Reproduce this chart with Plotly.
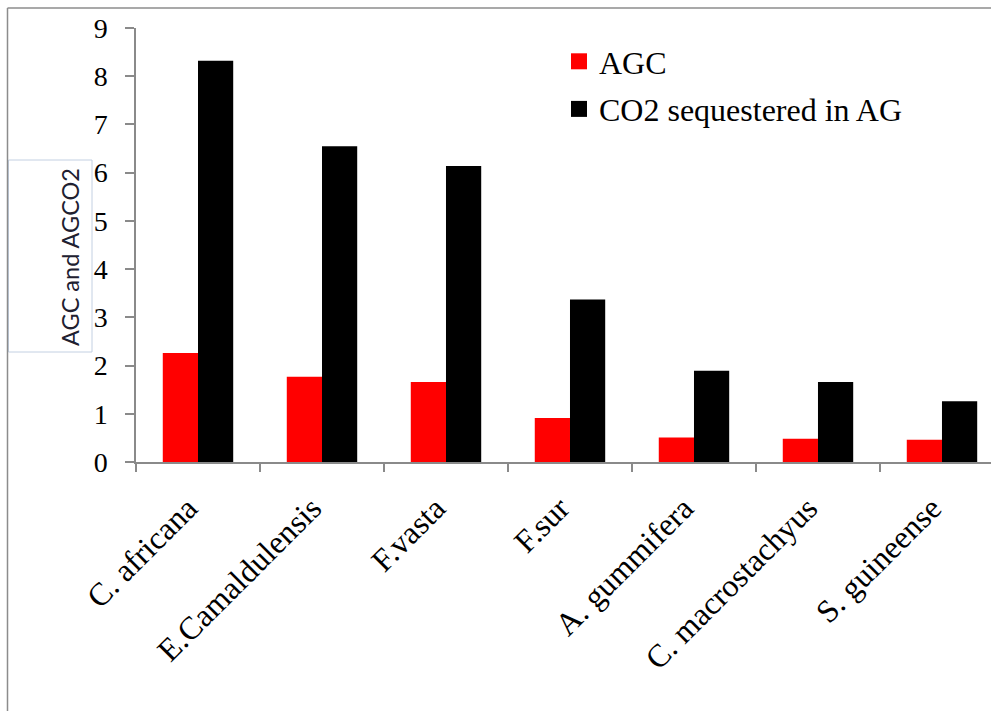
import plotly.graph_objects as go

# Above-ground carbon (AGC) and CO2 sequestered above ground, by species
species = ["C. africana", "E.Camaldulensis", "F.vasta", "F.sur",
           "A. gummifera", "C. macrostachyus", "S. guineense"]
agc = [2.26, 1.77, 1.66, 0.91, 0.51, 0.48, 0.46]
co2_ag = [8.32, 6.55, 6.14, 3.37, 1.89, 1.66, 1.26]
y_ticks = [0, 1, 2, 3, 4, 5, 6, 7, 8, 9]

W, H = 991, 711
L, R, T, B = 136, 0, 28, 249
PW, PH = W - L - R, H - T - B


def px(x):
    return (x - L) / PW


def py(y):
    return (H - B - y) / PH


SERIF = "Liberation Serif, Times New Roman, serif"
AXIS = "#8a8a8a"

fig = go.Figure()
fig.add_trace(go.Bar(x=species, y=agc, name="AGC", marker_color="#ff0000",
                     marker_line_width=0, showlegend=False))
fig.add_trace(go.Bar(x=species, y=co2_ag, name="CO2 sequestered in AG",
                     marker_color="#000000", marker_line_width=0, showlegend=False))

# legend entries with larger square swatches
fig.add_trace(go.Scatter(x=[None], y=[None], mode="markers", name="AGC",
                         legendgroup="a",
                         marker=dict(symbol="square", size=16, color="#ff0000")))
fig.add_trace(go.Scatter(x=[None], y=[None], mode="markers",
                         name="CO2 sequestered in AG", legendgroup="b",
                         marker=dict(symbol="square", size=16, color="#000000")))

shapes = [
    # outer chart frame
    dict(type="line", xref="paper", yref="paper", x0=px(7.5), x1=px(1000),
         y0=py(8), y1=py(8), line=dict(color="#8c8c8c", width=1.5)),
    dict(type="line", xref="paper", yref="paper", x0=px(7.5), x1=px(7.5),
         y0=py(8), y1=py(720), line=dict(color="#8c8c8c", width=1.5)),
    # box around the y-axis title
    dict(type="rect", xref="paper", yref="paper", x0=px(8.5), x1=px(92),
         y0=py(160), y1=py(352), line=dict(color="#c3d0e2", width=1),
         fillcolor="white", layer="below"),
]

fig.update_layout(
    width=W, height=H,
    margin=dict(l=L, r=R, t=T, b=B, pad=0),
    paper_bgcolor="white", plot_bgcolor="white",
    barmode="group", bargap=0.432, bargroupgap=0,
    shapes=shapes,
    legend=dict(x=px(559), y=py(34), xanchor="left", yanchor="top",
                font=dict(family=SERIF, size=32, color="black"),
                bgcolor="rgba(0,0,0,0)", tracegroupgap=3,
                traceorder="grouped", itemwidth=30),
    annotations=[dict(text="AGC and AGCO2", xref="paper", yref="paper",
                      x=px(69.5), y=py(257.5), xanchor="center",
                      yanchor="middle", showarrow=False, textangle=-90,
                      font=dict(family="Lato, Carlito, sans-serif", size=23.5,
                                color="#202030"))],
    xaxis=dict(
        range=[-0.5, 6.5 - 13 / 124.2], showline=True, linecolor=AXIS,
        linewidth=1.5, ticks="outside", tickson="boundaries", ticklen=8,
        tickcolor=AXIS, tickwidth=1.5, tickangle=-45, showgrid=False,
        ticklabelshift=-10, ticklabelstandoff=13,
        tickfont=dict(family=SERIF, size=32, color="black"),
    ),
    yaxis=dict(
        range=[0, 9], tickvals=y_ticks, ticktext=[str(v) for v in y_ticks],
        showline=True, linecolor=AXIS, linewidth=1.5, ticks="outside",
        ticklen=9, tickcolor=AXIS, tickwidth=1.5, showgrid=False,
        zeroline=False, ticklabelstandoff=12,
        tickfont=dict(family=SERIF, size=28, color="black"),
    ),
)

fig.write_html("out.html")
